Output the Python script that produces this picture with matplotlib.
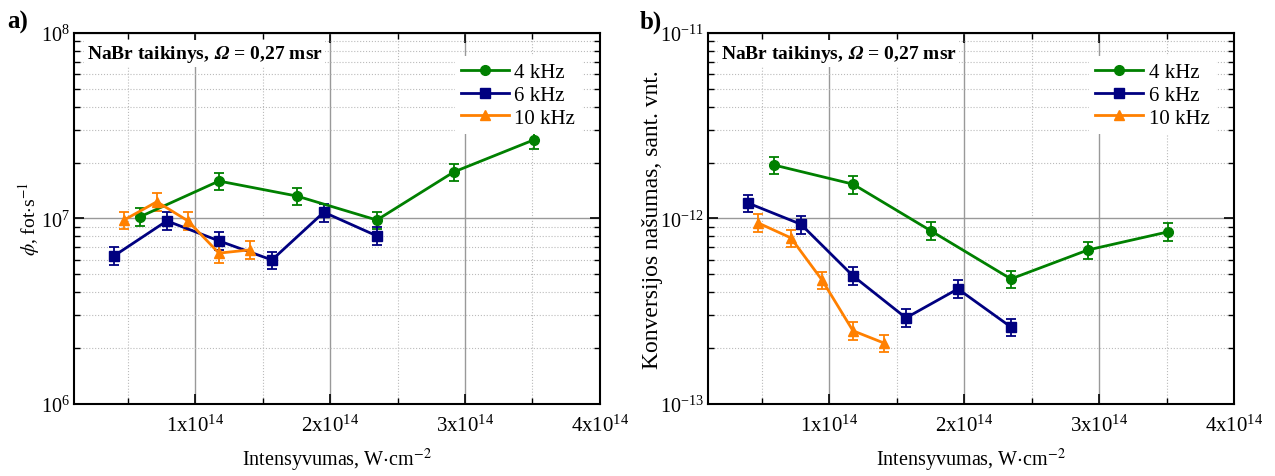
import matplotlib
matplotlib.use("Agg")
import matplotlib.pyplot as plt
from matplotlib.lines import Line2D
from matplotlib.ticker import FixedLocator, NullFormatter, LogLocator
import numpy as np

plt.rcParams['font.family'] = ['Liberation Serif', 'DejaVu Serif']
plt.rcParams['mathtext.fontset'] = 'stix'
FONT_SIZE = 14.5

# Intensity (W/cm^2) and measured values per repetition rate
x_4khz = [0.589e14, 1.175e14, 1.753e14, 2.346e14, 2.917e14, 3.51e14]
x_6khz = [0.397e14, 0.789e14, 1.175e14, 1.568e14, 1.953e14, 2.346e14]
x_10khz = [0.471e14, 0.715e14, 0.945e14, 1.175e14, 1.405e14]

# panel a) photon flux, fot/s
flux_4khz = [1.02e7, 1.59e7, 1.32e7, 9.8e6, 1.78e7, 2.65e7]
flux_6khz = [6.28e6, 9.7e6, 7.57e6, 5.97e6, 1.08e7, 8.05e6]
flux_10khz = [9.8e6, 1.23e7, 9.7e6, 6.5e6, 6.77e6]

# panel b) conversion efficiency, arb. units
eff_4khz = [1.94e-12, 1.53e-12, 8.57e-13, 4.72e-13, 6.76e-13, 8.46e-13]
eff_6khz = [1.21e-12, 9.3e-13, 4.9e-13, 2.91e-13, 4.17e-13, 2.6e-13]
eff_10khz = [9.46e-13, 7.85e-13, 4.66e-13, 2.48e-13, 2.13e-13]

REL_ERR = 0.11
labels = ['4 kHz', '6 kHz', '10 kHz']
colors = ['#008000', '#000080', '#ff8000']
markers = ['o', 's', '^']
xticks = [1e14, 2e14, 3e14, 4e14]
xticklabels = [r'$\mathregular{%dx10^{14}}$' % i for i in range(1, 5)]


def draw_panel(ax, xs, ys, ylim, yticks, yticklabels, ylabel, ylabel_size, ylabel_pad):
    handles = []
    for x, y, lab, c, m in zip(xs, ys, labels, colors, markers):
        y = np.array(y)
        ax.errorbar(x, y, yerr=REL_ERR * y, color=c, marker=m, ms=7, lw=2,
                    capsize=3.5, elinewidth=1.3, capthick=1.3, zorder=3)
        handles.append(Line2D([], [], color=c, marker=m, ms=7, lw=2, label=lab))
    ax.set_yscale('log')
    ax.set_xlim(1e13, 4e14)
    ax.set_ylim(*ylim)
    ax.xaxis.set_major_locator(FixedLocator(xticks))
    ax.xaxis.set_minor_locator(FixedLocator([0.5e14, 1.5e14, 2.5e14, 3.5e14]))
    ax.set_xticklabels(xticklabels)
    ax.yaxis.set_major_locator(FixedLocator(yticks))
    ax.set_yticklabels(yticklabels)
    ax.yaxis.set_minor_locator(LogLocator(base=10, subs=np.arange(2, 10)))
    ax.yaxis.set_minor_formatter(NullFormatter())
    ax.tick_params(which='both', direction='in', top=True, right=True, labelsize=15)
    ax.tick_params(which='major', length=7, width=1.2)
    ax.tick_params(which='minor', length=4, width=1)
    ax.tick_params(axis='x', pad=8)
    ax.tick_params(axis='y', pad=3, labelsize=14.5)
    ax.grid(which='major', color='#999999', lw=1, ls='-')
    ax.grid(which='minor', color='#bbbbbb', lw=0.8, ls=':')
    ax.set_axisbelow(True)
    for s in ax.spines.values():
        s.set_linewidth(1.5)
    ax.set_xlabel(r'Intensyvumas, W$\cdot$cm$^{-2}$', fontsize=FONT_SIZE, labelpad=7)
    ax.set_ylabel(ylabel, fontsize=ylabel_size, labelpad=ylabel_pad)
    ax.text(0.024, 0.945, r'NaBr taikinys, $\mathbfit{\Omega}$ = 0,27 msr', transform=ax.transAxes,
            fontsize=14, fontweight='bold', va='center', ha='left', zorder=4,
            bbox=dict(facecolor='white', edgecolor='none', pad=2))
    leg = ax.legend(handles=handles, loc='upper right', bbox_to_anchor=(0.985, 0.965),
                    fontsize=15, handlelength=2.3, frameon=True, fancybox=False, framealpha=1,
                    edgecolor='none', borderpad=0.3, labelspacing=0.15, handletextpad=0.25)
    leg.set_zorder(5)


fig = plt.figure(figsize=(12.75, 4.77), dpi=100)
ax1 = fig.add_axes([0.058, 0.151, 0.4125, 0.778])
ax2 = fig.add_axes([0.5553, 0.151, 0.4125, 0.778])

draw_panel(ax1, [x_4khz, x_6khz, x_10khz], [flux_4khz, flux_6khz, flux_10khz],
           (1e6, 1e8), [1e6, 1e7, 1e8],
           [r'$\mathregular{10^{6}}$', r'$\mathregular{10^{7}}$', r'$\mathregular{10^{8}}$'],
           r'$\phi$, fot$\cdot$s$^{-1}$', 14, -1)
draw_panel(ax2, [x_4khz, x_6khz, x_10khz], [eff_4khz, eff_6khz, eff_10khz],
           (1e-13, 1e-11), [1e-13, 1e-12, 1e-11],
           [r'$\mathregular{10^{-13}}$', r'$\mathregular{10^{-12}}$', r'$\mathregular{10^{-11}}$'],
           'Konversijos našumas, sant. vnt.', 17, -2)

fig.text(0.006, 0.953, 'a)', fontsize=18, fontweight='bold', va='center')
fig.text(0.502, 0.953, 'b)', fontsize=18, fontweight='bold', va='center')

fig.savefig('out.png', dpi=100)
